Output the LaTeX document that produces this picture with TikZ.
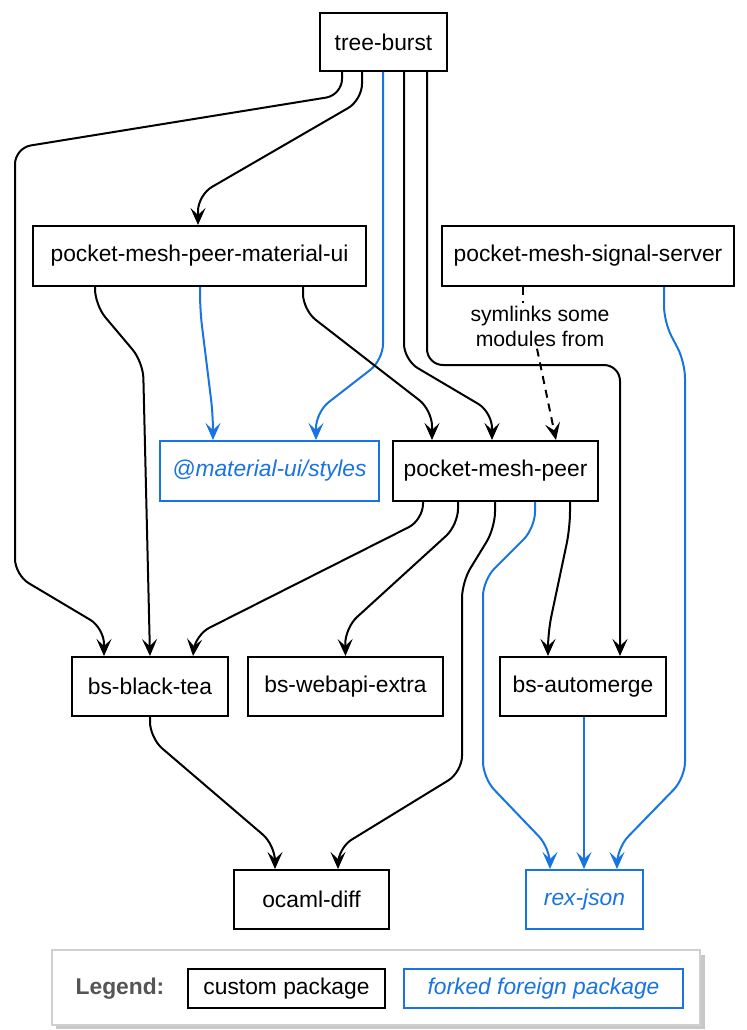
\documentclass[tikz,border=0pt]{standalone}
\usepackage{fontspec}
\setmainfont{Liberation Sans}
\usetikzlibrary{arrows.meta,shadows}
\definecolor{fblue}{RGB}{24,116,226}
\definecolor{leggray}{RGB}{85,85,85}
\definecolor{legborder}{RGB}{208,208,208}
\definecolor{legshadow}{RGB}{200,200,200}
\begin{document}
\begin{tikzpicture}[x=0.5pt,y=-0.5pt,
  pkg/.style={draw=black,line width=1pt,inner sep=0pt,minimum height=30pt,
    font=\fontsize{11.4}{13}\selectfont,text=black},
  fork/.style={draw=fblue,line width=1pt,inner sep=0pt,minimum height=30pt,
    font=\fontsize{11.4}{13}\selectfont\itshape,text=fblue},
  tip/.style={-{Stealth[length=8.5pt,width=7.5pt,inset=3.5pt]}},
  dep/.style={line width=1pt,rounded corners=8pt,tip},
  fdep/.style={dep,draw=fblue},
  lbl/.style={font=\fontsize{10.6}{12.5}\selectfont,align=center,inner sep=1pt}
]
\useasboundingbox (0,0) rectangle (747,1030);

% nodes
\node[pkg,minimum width=63.5pt,minimum height=29pt] (tb) at (383.5,42) {tree-burst};
\node[pkg,minimum width=166.5pt] (pmu) at (199.5,256) {pocket-mesh-peer-material-ui};
\node[pkg,minimum width=146pt] (ss) at (588,256) {pocket-mesh-signal-server};
\node[fork,minimum width=109.5pt] (mat) at (269.5,471) {@material-ui/styles};
\node[pkg,minimum width=102.5pt] (pmp) at (495.5,471) {pocket-mesh-peer};
\node[pkg,minimum width=78pt,minimum height=29.5pt] (bbt) at (150,686.5) {bs-black-tea};
\node[pkg,minimum width=97.5pt,minimum height=29.5pt] (bwe) at (345.5,686.5) {bs-webapi-extra};
\node[pkg,minimum width=83pt,minimum height=29.5pt] (bam) at (583,686.5) {bs-automerge};
\node[pkg,minimum width=77.5pt,minimum height=29.5pt] (od) at (311.5,899.5) {ocaml-diff};
\node[fork,minimum width=58.5pt,minimum height=29.5pt] (rj) at (584.5,899.5) {rex-json};
\node[lbl] (sym) at (540,326) {symlinks some\\modules from};

% tree-burst edges
\draw[dep] ([xshift=-20.75pt]tb.south) -- (342,95) -- (15,148) -- (15,575) -- (104,628) -- ([xshift=-23pt]bbt.north);
\draw[dep] ([xshift=-10.75pt]tb.south) -- (362,100) -- (198,195) -- ([xshift=-0.75pt]pmu.north);
\draw[fdep] ([xshift=-0.25pt]tb.south) -- (383,360) -- (316,412) -- ([xshift=23.25pt]mat.north);
\draw[dep] ([xshift=10.25pt]tb.south) -- (404,360) -- (492,412) -- ([xshift=-1.75pt]pmp.north);
\draw[dep] ([xshift=21.75pt]tb.south) -- (427,365) -- (620,365) -- ([xshift=18.5pt]bam.north);

% material-ui edges
\draw[dep] ([xshift=-52.25pt]pmu.south) -- (95,305) -- (143,362) -- ([xshift=0pt]bbt.north);
\draw[fdep] ([xshift=0.25pt]pmu.south) -- (200,310) -- (213,415) -- ([xshift=-28.25pt]mat.north);
\draw[dep] ([xshift=51.75pt]pmu.south) -- (303,310) -- (432,410) -- ([xshift=-31.75pt]pmp.north);

% signal server edges
\draw[line width=1pt,dash pattern=on 4pt off 3pt] ([xshift=-32.5pt]ss.south) -- ([xshift=-8.5pt]sym.north);
\draw[line width=1pt,dash pattern=on 4pt off 3pt,tip] ([xshift=-1.5pt]sym.south) -- ([xshift=30.25pt]pmp.north);
\draw[fdep] ([xshift=38pt]ss.south) -- (664,322) -- (685,362) -- (685,778) -- (617,848) -- ([xshift=16.25pt]rj.north);

% pocket-mesh-peer edges
\draw[dep] ([xshift=-36.25pt]pmp.south) -- (423,520) -- (195,635) -- ([xshift=21.5pt]bbt.north);
\draw[dep] ([xshift=-18.75pt]pmp.south) -- (458,525) -- (345,628) -- (bwe.north);
\draw[dep] ([xshift=-0.25pt]pmp.south) -- (495,528) -- (462,582) -- (462,772) -- (338,848) -- ([xshift=13.25pt]od.north);
\draw[fdep] ([xshift=19.75pt]pmp.south) -- (535,528) -- (483,580) -- (483,778) -- (550,848) -- ([xshift=-17.25pt]rj.north);
\draw[dep] ([xshift=37.25pt]pmp.south) -- (570,528) -- (548,632) -- ([xshift=-17.5pt]bam.north);

% lower edges
\draw[dep] (bbt.south) -- (150,738) -- (275,845) -- ([xshift=-18.25pt]od.north);
\draw[fdep] ([xshift=0.5pt]bam.south) -- ([xshift=-0.25pt]rj.north);

% legend
\fill[legshadow] (56,955) rectangle (705,1029);
\node[draw=legborder,fill=white,line width=1pt,minimum width=324pt,minimum height=37.5pt,inner sep=0pt] (leg) at (376,987.5) {};
\node[font=\fontsize{11.4}{13}\selectfont\bfseries,text=leggray] (legt) at (120,989) {Legend:};
\node[pkg,minimum width=98.5pt,minimum height=19.5pt] (lc) at (286.5,988.5) {custom package};
\node[fork,minimum width=139.5pt,minimum height=19.5pt] (lf) at (543.5,988.5) {forked foreign package};
\end{tikzpicture}
\end{document}
